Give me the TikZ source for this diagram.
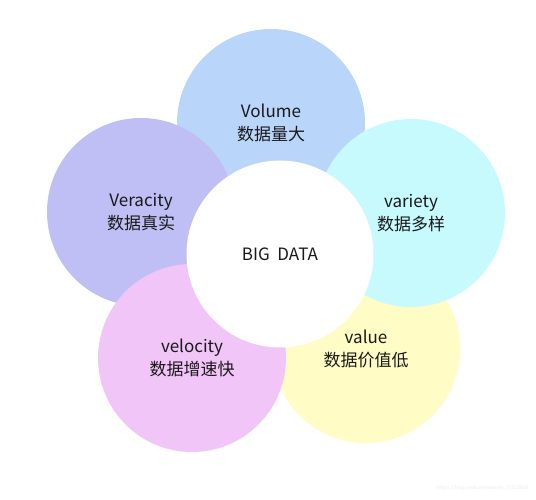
\documentclass[tikz,border=0pt]{standalone}
\usepackage{fontspec}
\setmainfont{Noto Sans CJK SC}
\definecolor{cvol}{HTML}{B9D5F9}
\definecolor{cvar}{HTML}{C6FAFD}
\definecolor{cval}{HTML}{FFFCC6}
\definecolor{cver}{HTML}{BFBFF6}
\definecolor{cvel}{HTML}{F2C5F9}
\tikzset{
  petal/.style={circle, minimum size=188pt, inner sep=0pt, align=center,
    font=\fontsize{17}{23}\selectfont, text=black!90},
}
\begin{document}
\begin{tikzpicture}[x=1pt,y=-1pt]
\useasboundingbox[fill=white] (0,0) rectangle (536,500);
\node[petal, fill=cvol] (vol) at (271,123) {Volume\\数据量大};
\node[petal, fill=cval] (val) at (366,349) {value\\数据价值低};
\node[petal, fill=cvar] (var) at (411,213) {variety\\数据多样};
\node[petal, fill=cver] (ver) at (141,212) {Veracity\\数据真实};
\node[petal, fill=cvel] (vel) at (192,358) {velocity\\数据增速快};
\node[petal, fill=white, minimum size=187pt] (big) at (280,254) {BIG\ \ DATA};
\node[font=\fontsize{5}{6}\selectfont, text=black!8, anchor=east] (wm) at (532,488) {https://blog.csdn.net/weixin\_37512808};
\end{tikzpicture}
\end{document}
